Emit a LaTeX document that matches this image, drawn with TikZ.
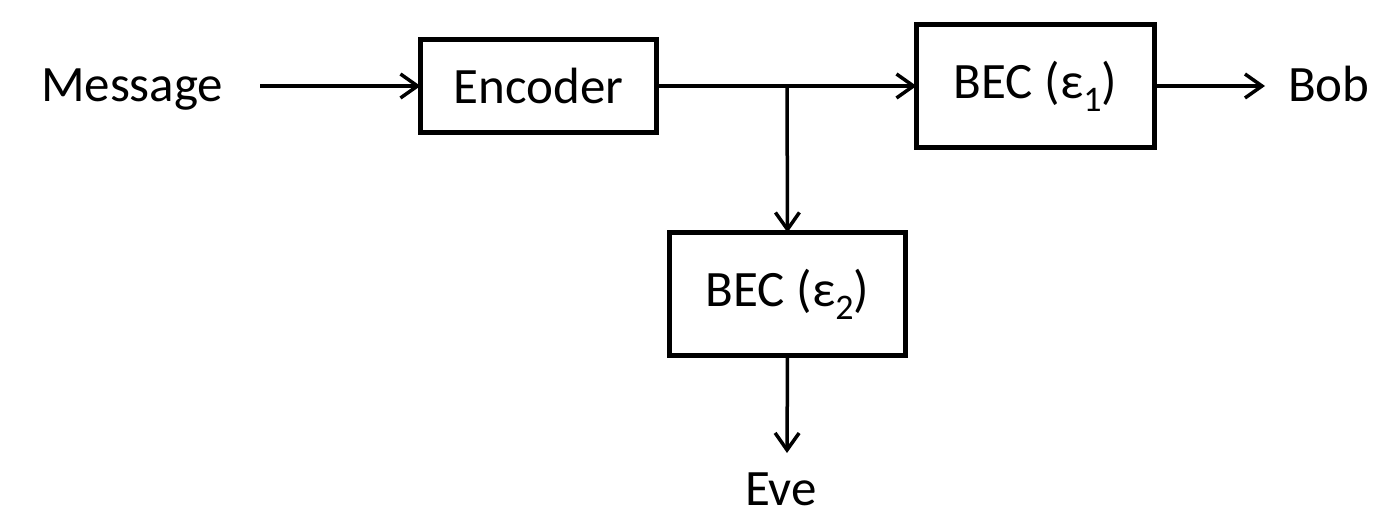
\documentclass[tikz,border=0pt]{standalone}
\usepackage{fontspec}
\setmainfont{Carlito}
\usepackage{amsmath}
\usetikzlibrary{arrows.meta}
% epsilon with a lowered index, as set in the channel blocks
\newcommand{\eps}[1]{\ensuremath{\text{ε}}\raisebox{-13pt}{\fontsize{36}{36}\selectfont #1}}
\tikzset{
  lbl/.style={font=\fontsize{51}{60}\selectfont, inner sep=0pt, outer sep=0pt},
  blockbox/.style={draw, line width=5pt, inner sep=0pt, outer sep=0pt,
    font=\fontsize{51}{60}\selectfont},
  flow/.style={line width=3.5pt, -{Straight Barb[length=17pt,width=24pt]}},
  wire/.style={line width=3.5pt}
}
\begin{document}
\begin{tikzpicture}[x=1pt,y=1pt]
\useasboundingbox (0,0) rectangle (1391,514);
% blocks
\node[blockbox, minimum width=236pt, minimum height=93pt] (enc) at (538.5,428) {Encoder};
\node[blockbox, minimum width=238pt, minimum height=123pt] (bec1) at (1035.5,428) {BEC (\eps{1})};
\node[blockbox, minimum width=236pt, minimum height=123pt] (bec2) at (787.5,220) {BEC (\eps{2})};
% terminal labels
\node[lbl, anchor=base west] (msg) at (41,412) {Message};
\node[lbl, anchor=base west] (bob) at (1288,412) {Bob};
\node[lbl, anchor=base] (eve) at (781,9) {Eve};
% connector end points
\coordinate (msgout) at (260,428);
\coordinate (split) at (787,428);
\coordinate (bobin) at (1265,428);
\coordinate (evein) at (787,61);
% connectors
\draw[flow] (msgout) -- (enc.west);
\draw[wire] (enc.east) -- (split);
\draw[flow] (split) -- (bec1.west);
\draw[flow] (split) -- (bec2.north);
\draw[flow] (bec1.east) -- (bobin);
\draw[flow] (bec2.south) -- (evein);
\end{tikzpicture}
\end{document}
